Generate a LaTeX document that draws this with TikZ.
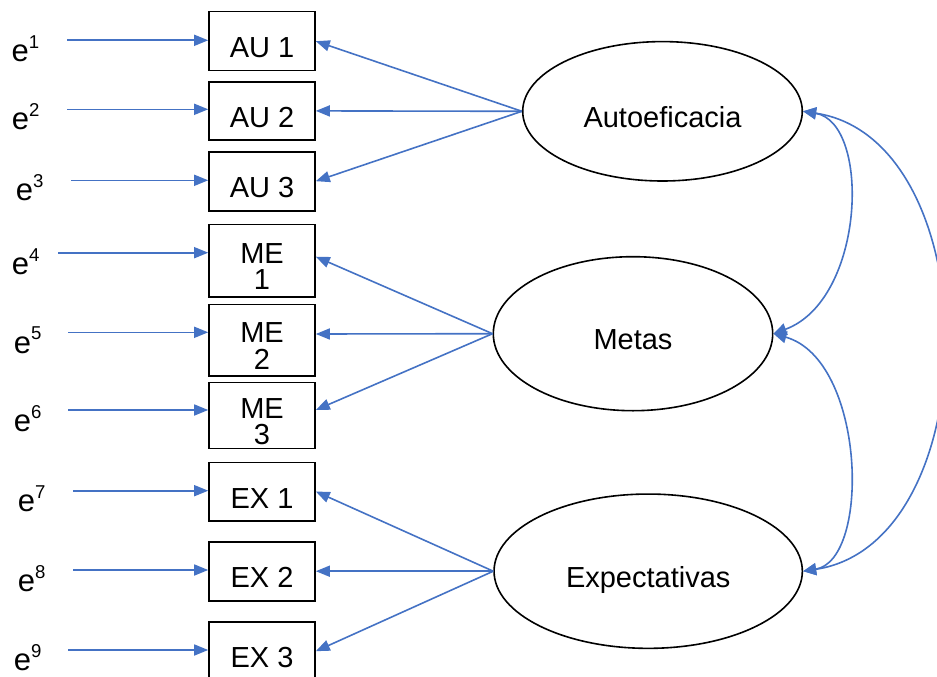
\documentclass[tikz,border=0pt]{standalone}
\usepackage{fontspec}
\setmainfont{Liberation Sans}
\usetikzlibrary{shapes.geometric,arrows.meta}
\definecolor{pathblue}{HTML}{4472C4}
% two centred lines with the first baseline as the box baseline
\newcommand{\stackedlabel}[2]{\vtop{\halign{\hfil##\hfil\cr #1\cr #2\cr}}}
\newcommand{\errlabel}[1]{e{\fontsize{18.6}{18.6}\selectfont\raisebox{13.2pt}{#1}}}
\tikzset{
  indicator/.style={draw, line width=1.6pt, minimum width=106pt, minimum height=59pt,
    inner sep=0pt, font=\fontsize{29}{29}\selectfont, text height=33pt, text depth=0pt},
  indicator2/.style={indicator, font=\fontsize{29}{26.6}\selectfont,
    text height=32.2pt, text depth=26.6pt},
  latent/.style={ellipse, draw, line width=1.6pt, inner sep=0pt,
    font=\fontsize{29}{29}\selectfont, text height=32pt, text depth=0pt},
  errtext/.style={anchor=base west, inner sep=0pt, font=\fontsize{31}{31}\selectfont},
  load/.style={draw=pathblue, line width=1.6pt, -{Triangle[length=14pt,width=11pt]}},
  cov/.style={draw=pathblue, line width=1.6pt,
    {Triangle[length=13pt,width=12pt]}-{Triangle[length=13pt,width=12pt]}},
}
\begin{document}
\begin{tikzpicture}[x=1pt,y=-1pt]
\useasboundingbox (0,0) rectangle (937,677);
\clip (0,0) rectangle (937,677);

% observed indicators
\node[indicator] (au1) at (262,41.2) {AU 1};
\node[indicator, minimum height=58.3pt] (au2) at (262,110.9) {AU 2};
\node[indicator] (au3) at (262,181.2) {AU 3};
\node[indicator2, minimum height=72.4pt] (me1) at (262,260.5) {\stackedlabel{ME}{1}};
\node[indicator2, minimum height=71.4pt] (me2) at (262,340) {\stackedlabel{ME}{2}};
\node[indicator2, minimum height=66pt] (me3) at (262,415.3) {\stackedlabel{ME}{3}};
\node[indicator, minimum height=58.4pt] (ex1) at (262,491.5) {EX 1};
\node[indicator] (ex2) at (262,571.2) {EX 2};
\node[indicator] (ex3) at (262,651.2) {EX 3};

% latent factors
\node[latent, minimum width=279.6pt, minimum height=139.4pt] (auto) at (662.5,111.3) {Autoeficacia};
\node[latent, minimum width=279.4pt, minimum height=154pt] (metas) at (633,333.7) {Metas};
\node[latent, minimum width=308.3pt, minimum height=154.3pt] (expect) at (648.2,571.2) {Expectativas};

% error terms
\node[errtext] (e1) at (11.5,61.5) {\errlabel{1}};
\node[errtext] (e2) at (11.7,129.7) {\errlabel{2}};
\node[errtext] (e3) at (15.7,200.7) {\errlabel{3}};
\node[errtext] (e4) at (11.7,274.7) {\errlabel{4}};
\node[errtext] (e5) at (13.7,353) {\errlabel{5}};
\node[errtext] (e6) at (13.7,431.4) {\errlabel{6}};
\node[errtext] (e7) at (17.7,511.4) {\errlabel{7}};
\node[errtext] (e8) at (17.7,591.4) {\errlabel{8}};
\node[errtext] (e9) at (13.7,670.4) {\errlabel{9}};

% error arrows
\coordinate (s1) at (67,40.3);
\coordinate (s2) at (67,109.3);
\coordinate (s3) at (71,180.3);
\coordinate (s4) at (58,252.7);
\coordinate (s5) at (68,332.3);
\coordinate (s6) at (68,410);
\coordinate (s7) at (73,490.7);
\coordinate (s8) at (73,570);
\coordinate (s9) at (68,650);
\draw[load] (s1) -- (s1 -| au1.west);
\draw[load] (s2) -- (s2 -| au2.west);
\draw[load] (s3) -- (s3 -| au3.west);
\draw[load] (s4) -- (s4 -| me1.west);
\draw[load] (s5) -- (s5 -| me2.west);
\draw[load] (s6) -- (s6 -| me3.west);
\draw[load] (s7) -- (s7 -| ex1.west);
\draw[load] (s8) -- (s8 -| ex2.west);
\draw[load] (s9) -- (s9 -| ex3.west);

% factor loadings
\draw[load] (auto.west) -- (au1.east);
\draw[load] (auto.west) -- (au2.east);
\draw[load] (auto.west) -- (au3.east);
\draw[load] (metas.west) -- ([yshift=3.8pt]me1.east);
\draw[load] (metas.west) -- ([yshift=6pt]me2.east);
\draw[load] (metas.west) -- ([yshift=5.3pt]me3.east);
\draw[load] (expect.west) -- (ex1.east);
\draw[load] (expect.west) -- (ex2.east);
\draw[load] (expect.west) -- (ex3.east);

% factor covariances
\draw[cov] (auto.east) .. controls +(68,11) and +(92,-34) .. (metas.east);
\draw[cov] (metas.east) .. controls +(92,26) and +(68,-11) .. (expect.east);
\draw[cov] (auto.east) .. controls +(186,28) and +(186,-28) .. (expect.east);
\end{tikzpicture}
\end{document}
